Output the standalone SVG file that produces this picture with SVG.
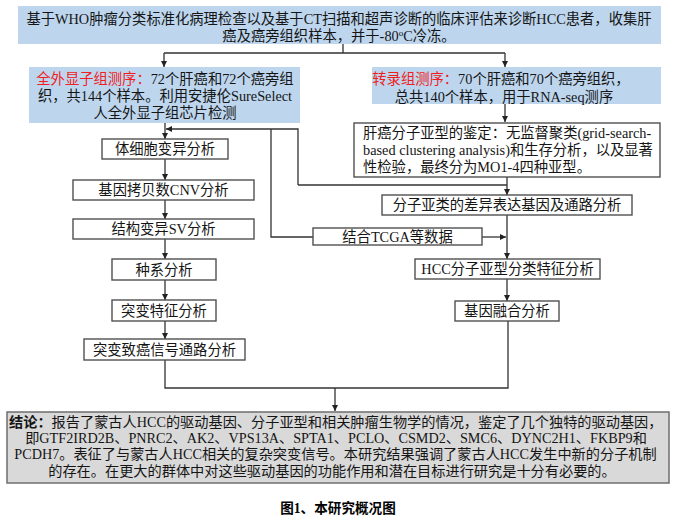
<svg xmlns="http://www.w3.org/2000/svg" width="674" height="525" viewBox="0 0 674 525">
<defs>
<style>
.t{font-family:"Liberation Serif","Noto Sans CJK SC",serif;font-size:14.3px;fill:#151515}
.c{text-anchor:middle}
.blue{fill:#bdd6ee;stroke:none}
.wb{fill:#ffffff;stroke:#505050;stroke-width:1.4}
.gb{fill:#d9d9d9;stroke:#6e6e6e;stroke-width:1.5}
.ln{fill:none;stroke:#333333;stroke-width:1.3}
.red{fill:#f02020}
</style>
<marker id="ah" markerWidth="8" markerHeight="8" refX="6" refY="3" orient="auto" markerUnits="userSpaceOnUse">
<path d="M0,0 L6,3 L0,6 Z" fill="#222222"/>
</marker>
</defs>
<rect width="674" height="525" fill="#ffffff"/>

<g id="connectors">
<path class="ln" d="M343,44 V53 M164,53 H505"/>
<path class="ln" d="M164,53 V67" marker-end="url(#ah)"/>
<path class="ln" d="M505,53 V67" marker-end="url(#ah)"/>
<path class="ln" d="M505,104 V122" marker-end="url(#ah)"/>
<path class="ln" d="M165,123 V139" marker-end="url(#ah)"/>
<path class="ln" d="M298,185 V129 H166" marker-end="url(#ah)"/>
<path class="ln" d="M298,185 H507"/>
<path class="ln" d="M271,129 V237 H313"/>
<path class="ln" d="M507,177 V195" marker-end="url(#ah)"/>
<path class="ln" d="M507,215 V259" marker-end="url(#ah)"/>
<path class="ln" d="M482,237 H506" marker-end="url(#ah)"/>
<path class="ln" d="M507,279 V301" marker-end="url(#ah)"/>
<path class="ln" d="M165,159 V180" marker-end="url(#ah)"/>
<path class="ln" d="M165,200 V219" marker-end="url(#ah)"/>
<path class="ln" d="M165,239 V259" marker-end="url(#ah)"/>
<path class="ln" d="M165,280 V300" marker-end="url(#ah)"/>
<path class="ln" d="M165,321 V339" marker-end="url(#ah)"/>
<path class="ln" d="M165,360 V388 H508 V321"/>
<path class="ln" d="M335,388 V411" marker-end="url(#ah)"/>
</g>

<g id="n_top">
<rect class="blue" x="18" y="6" width="643" height="38"/>
<text class="t c" x="339" y="23.5">基于WHO肿瘤分类标准化病理检查以及基于CT扫描和超声诊断的临床评估来诊断HCC患者，收集肝</text>
<text class="t c" x="339" y="41">癌及癌旁组织样本，并于-80<tspan font-size="9" baseline-shift="super">o</tspan>C冷冻。</text>
</g>

<g id="n_wes">
<rect class="blue" x="29" y="67" width="271" height="56"/>
<text class="t c" x="165" y="84"><tspan class="red">全外显子组测序：</tspan>72个肝癌和72个癌旁组</text>
<text class="t c" x="165" y="101">织，共144个样本。利用安捷伦SureSelect</text>
<text class="t c" x="165" y="118">人全外显子组芯片检测</text>
</g>

<g id="n_rna">
<rect class="blue" x="372" y="67" width="289" height="37"/>
<text class="t c" x="501" y="84"><tspan class="red">转录组测序：</tspan>70个肝癌和70个癌旁组织，</text>
<text class="t c" x="504" y="102">总共140个样本，用于RNA-seq测序</text>
</g>

<g id="n_subtype">
<rect class="wb" x="354" y="123" width="306" height="54"/>
<text class="t" x="363" y="137.5">肝癌分子亚型的鉴定：无监督聚类(grid-search-</text>
<text class="t" x="363" y="155">based clustering analysis)和生存分析，以及显著</text>
<text class="t" x="363" y="172">性检验，最终分为MO1-4四种亚型。</text>
</g>

<g id="n_somatic">
<rect class="wb" x="102" y="139" width="126" height="20"/>
<text class="t c" x="165" y="154">体细胞变异分析</text>
</g>
<g id="n_cnv">
<rect class="wb" x="73" y="180" width="181" height="20"/>
<text class="t c" x="163.5" y="195">基因拷贝数CNV分析</text>
</g>
<g id="n_sv">
<rect class="wb" x="73" y="219" width="181" height="20"/>
<text class="t c" x="163.5" y="234">结构变异SV分析</text>
</g>
<g id="n_germline">
<rect class="wb" x="112" y="259" width="104" height="21"/>
<text class="t c" x="164" y="274.5">种系分析</text>
</g>
<g id="n_signature">
<rect class="wb" x="112" y="300" width="104" height="21"/>
<text class="t c" x="164" y="315.5">突变特征分析</text>
</g>
<g id="n_pathway">
<rect class="wb" x="84" y="339" width="161" height="21"/>
<text class="t c" x="164.5" y="354.5">突变致癌信号通路分析</text>
</g>

<g id="n_deg">
<rect class="wb" x="382" y="195" width="250" height="20"/>
<text class="t c" x="507" y="210">分子亚类的差异表达基因及通路分析</text>
</g>
<g id="n_tcga">
<rect class="wb" x="313" y="228" width="169" height="17"/>
<text class="t c" x="397.5" y="241.5">结合TCGA等数据</text>
</g>
<g id="n_hcc">
<rect class="wb" x="415" y="259" width="185" height="20"/>
<text class="t c" x="507.5" y="274">HCC分子亚型分类特征分析</text>
</g>
<g id="n_fusion">
<rect class="wb" x="455" y="301" width="104" height="20"/>
<text class="t c" x="507" y="316">基因融合分析</text>
</g>

<g id="n_conclusion">
<rect class="gb" x="7" y="412" width="662" height="71"/>
<text class="t" x="9" y="426.5" style="font-size:14.2px"><tspan font-weight="bold">结论：</tspan>报告了蒙古人HCC的驱动基因、分子亚型和相关肿瘤生物学的情况，鉴定了几个独特的驱动基因，</text>
<text class="t c" x="336" y="443" style="font-size:14.2px">即GTF2IRD2B、PNRC2、AK2、VPS13A、SPTA1、PCLO、CSMD2、SMC6、DYNC2H1、FKBP9和</text>
<text class="t c" x="335.5" y="459" style="font-size:14.2px">PCDH7。表征了与蒙古人HCC相关的复杂突变信号。本研究结果强调了蒙古人HCC发生中新的分子机制</text>
<text class="t c" x="332" y="476" style="font-size:14.2px">的存在。在更大的群体中对这些驱动基因的功能作用和潜在目标进行研究是十分有必要的。</text>
</g>

<text class="t c" x="338" y="513" style="font-size:13.6px;font-weight:bold;fill:#000">图1、本研究概况图</text>
</svg>
